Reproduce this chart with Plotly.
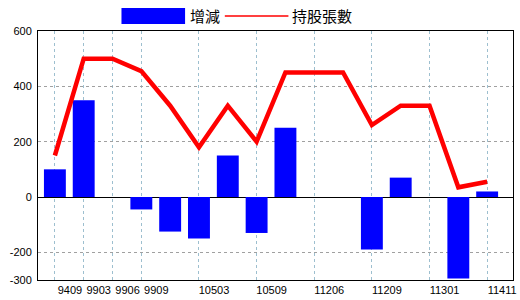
import plotly.graph_objects as go

categories = ["9409", "9903", "9906", "9909", "10412", "10503", "10506", "10509",
              "10512", "11206", "11208", "11209", "11212", "11301", "11403", "11411"]
change = [100, 350, 0, -45, -125, -150, 150, -130, 250, 0, 0, -190, 70, 0, -295, 20]
holdings = [150, 500, 500, 455, 330, 180, 330, 200, 450, 450, 450, 260, 330, 330, 35, 55]
x_tick_labels = ["9409", "9903", "9906", "9909", "10503", "10509", "11206", "11209", "11301", "11411"]
y_ticks = [600, 400, 200, 0, -200, -300]

L, R, T, B = 38, 516, 31, 280
W, H = 520, 300

def px(x):
    return (x - L) / (R - L)

def py(y):
    return (B - y) / (B - T)

fig = go.Figure()
fig.add_trace(go.Bar(x=categories, y=change, name="增減", marker=dict(color="#0000FF", line=dict(width=0))))
fig.add_trace(go.Scatter(x=categories, y=holdings, name="持股張數", mode="lines",
                         line=dict(color="#FF0000", width=4.5)))

fig.update_layout(
    width=W, height=H,
    margin=dict(l=L, r=W - R, t=T, b=H - B, pad=0),
    paper_bgcolor="white", plot_bgcolor="white",
    showlegend=False,
    bargap=0.24,
    font=dict(family="Liberation Sans, Arial, sans-serif", size=11, color="black"),
)
fig.update_xaxes(
    type="category",
    categoryorder="array", categoryarray=categories,
    range=[-0.586, 15.897],
    tickvals=x_tick_labels, ticktext=x_tick_labels,
    ticklabelshift=15,
    showgrid=True, gridcolor="#9DBFCF", griddash="dot", gridwidth=1,
    showline=True, linecolor="black", linewidth=1, mirror=True,
    ticks="", tickfont=dict(size=11, color="black"),
)
fig.update_yaxes(
    range=[-300, 600],
    tickvals=y_ticks, ticktext=[str(v) for v in y_ticks],
    showgrid=True, gridcolor="#A0A0A0", griddash="dot", gridwidth=1,
    zeroline=True, zerolinecolor="black", zerolinewidth=1.3,
    showline=True, linecolor="black", linewidth=1, mirror=True,
    ticks="", ticklabelstandoff=3, tickfont=dict(size=11, color="black"),
)

# Legend drawn manually to match the original's wide swatches
fig.add_shape(type="rect", xref="paper", yref="paper",
              x0=px(122), x1=px(186), y0=py(24), y1=py(8),
              fillcolor="#0000FF", line=dict(width=0))
fig.add_shape(type="line", xref="paper", yref="paper",
              x0=px(226), x1=px(290), y0=py(16), y1=py(16),
              line=dict(color="#FF0000", width=1.5))
cjk = "Noto Sans CJK TC, Noto Sans CJK SC, sans-serif"
fig.add_annotation(text="增減", xref="paper", yref="paper", x=px(189), y=py(16),
                   xanchor="left", yanchor="middle", showarrow=False,
                   font=dict(family=cjk, size=15, color="black"))
fig.add_annotation(text="持股張數", xref="paper", yref="paper", x=px(292), y=py(16),
                   xanchor="left", yanchor="middle", showarrow=False,
                   font=dict(family=cjk, size=15, color="black"))

fig.write_html("out.html")
